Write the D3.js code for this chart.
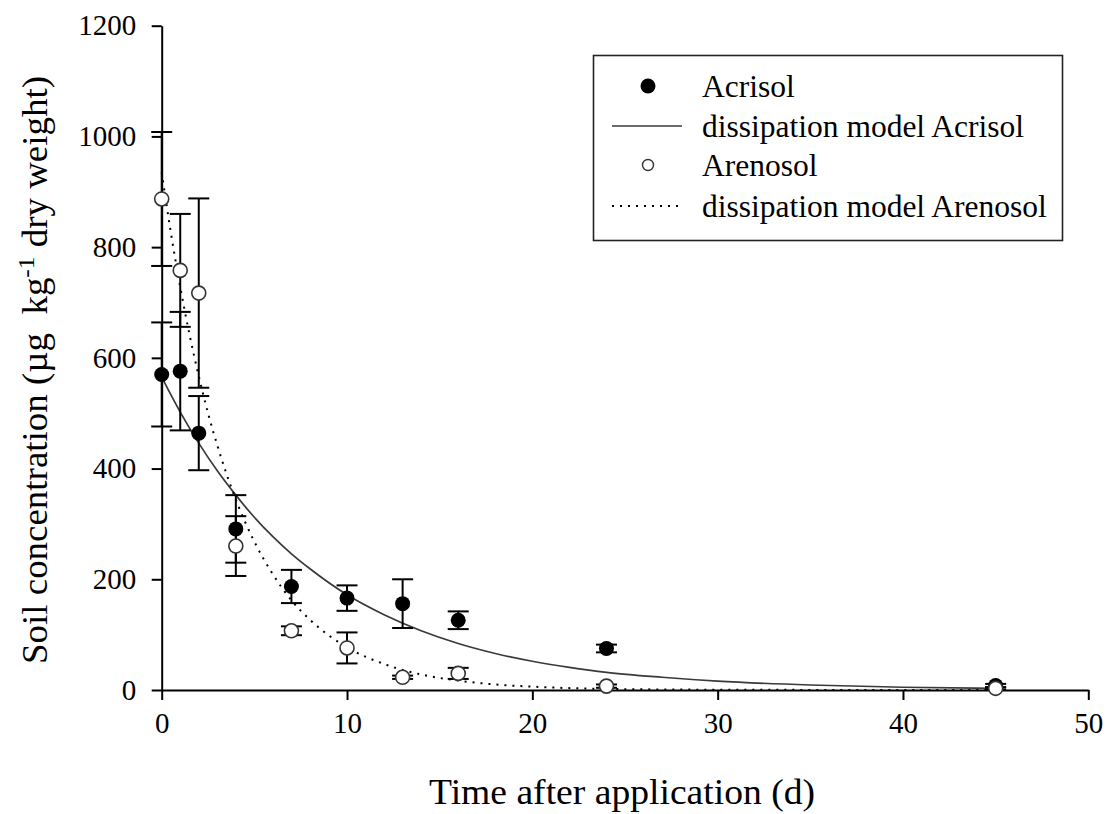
<!DOCTYPE html>
<html>
<head>
<meta charset="utf-8">
<script src="https://cdn.jsdelivr.net/npm/d3@7"></script>
<style>
  body { margin: 0; background: #fff; }
  svg { display: block; }
  text { font-family: "Liberation Serif", "Times New Roman", serif; fill: #000; }
</style>
</head>
<body>
<svg id="chart" width="1110" height="814"></svg>
<script>
// Sampling days and measured soil concentrations (mean and standard deviation)
const sampleDays    = [0, 1, 2, 4, 7, 10, 13, 16, 24, 45];
const acrisolMean   = [570, 576, 464, 291, 187, 166, 156, 126, 75, 8];
const acrisolSD     = [94, 107, 67, 61, 30, 23, 44, 16, 7, 3];
const arenosolMean  = [887, 758, 717, 260, 107, 76, 23, 30, 7, 3];
const arenosolSD    = [121, 102, 171, 54, 8, 28, 3, 10, 3, 2];

// Fitted dissipation model curves, tabulated
const acrisolModelDays = [0, 1, 2, 3, 4, 5, 6, 7, 8, 10, 12, 14, 16, 18, 20, 22, 24, 27, 30, 35, 40, 45];
const acrisolModel     = [565, 502, 446, 396, 352, 312, 277, 246, 219, 172, 136, 107, 84, 66, 52, 41, 32, 23, 16, 9, 5, 3];
const arenosolModelDays = [0, 0.5, 1, 1.5, 2, 2.5, 3, 4, 5, 6, 7, 8, 10, 12, 14, 16, 18, 20, 24, 30, 35, 40, 45];
const arenosolModel     = [935, 825, 728, 642, 567, 500, 442, 344, 268, 209, 162, 127, 77, 47, 28, 17, 10, 6, 2, 0.5, 0.2, 0.1, 0];

// Axis ticks and labels
const xTicks = [0, 10, 20, 30, 40, 50];
const yTicks = [0, 200, 400, 600, 800, 1000, 1200];
const xTitle = "Time after application (d)";
const legendLabels = ["Acrisol", "dissipation model Acrisol", "Arenosol", "dissipation model Arenosol"];

const serif = '"Liberation Serif", "Times New Roman", serif';
const svg = d3.select("#chart");
const x = d3.scaleLinear().domain([0, 50]).range([161.7, 1088.3]);
const y = d3.scaleLinear().domain([0, 1200]).range([690, 25.7]);

// Axes
const gx = svg.append("g")
  .attr("transform", `translate(0,${y(0)})`)
  .call(d3.axisBottom(x).tickValues(xTicks).tickFormat(d3.format("d"))
    .tickSize(10).tickSizeOuter(0).tickPadding(12));
const gy = svg.append("g")
  .attr("transform", `translate(${x(0)},0)`)
  .call(d3.axisLeft(y).tickValues(yTicks).tickFormat(d3.format("d"))
    .tickSize(10).tickSizeOuter(0).tickPadding(15.5));
[gx, gy].forEach(g => {
  g.attr("font-family", serif).attr("font-size", 29);
  g.select(".domain").attr("stroke", "#000").attr("stroke-width", 2);
  g.selectAll(".tick line").attr("stroke", "#000").attr("stroke-width", 2);
  g.selectAll(".tick text")
    .style("font-family", serif)
    .style("font-size", "29px")
    .attr("fill", "#000");
});

// Axis titles
svg.append("text")
  .attr("x", 622).attr("y", 804)
  .attr("text-anchor", "middle")
  .attr("textLength", 386).attr("lengthAdjust", "spacingAndGlyphs")
  .style("font-size", "35px")
  .text(xTitle);

const yTitle = svg.append("text")
  .attr("transform", "translate(47,370) rotate(-90)")
  .attr("text-anchor", "middle")
  .attr("textLength", 588).attr("lengthAdjust", "spacingAndGlyphs")
  .style("font-size", "35px");
yTitle.append("tspan").text("Soil concentration (\u00b5g\u00a0\u00a0kg");
yTitle.append("tspan").attr("dy", -13).style("font-size", "24px").text("-1");
yTitle.append("tspan").attr("dy", 13).text(" dry weight)");

// Model curves
const line = d3.line().curve(d3.curveMonotoneX);
svg.append("path")
  .attr("d", line(acrisolModelDays.map((d, i) => [x(d), y(acrisolModel[i])])))
  .attr("fill", "none").attr("stroke", "#3a3a3a").attr("stroke-width", 1.7);
svg.append("path")
  .attr("d", line(arenosolModelDays.map((d, i) => [x(d), y(arenosolModel[i])])))
  .attr("fill", "none").attr("stroke", "#000").attr("stroke-width", 2)
  .attr("stroke-dasharray", "2,6");

// Error bars
function errorBars(means, sds) {
  const g = svg.append("g").attr("stroke", "#000").attr("stroke-width", 2);
  sampleDays.forEach((d, i) => {
    const cx = x(d), lo = y(means[i] - sds[i]), hi = y(means[i] + sds[i]);
    g.append("line").attr("x1", cx).attr("x2", cx).attr("y1", lo).attr("y2", hi);
    g.append("line").attr("x1", cx - 10.5).attr("x2", cx + 10.5).attr("y1", lo).attr("y2", lo);
    g.append("line").attr("x1", cx - 10.5).attr("x2", cx + 10.5).attr("y1", hi).attr("y2", hi);
  });
}
errorBars(acrisolMean, acrisolSD);
errorBars(arenosolMean, arenosolSD);

// Measured points
svg.append("g").selectAll("circle")
  .data(sampleDays)
  .join("circle")
  .attr("cx", d => x(d))
  .attr("cy", (d, i) => y(acrisolMean[i]))
  .attr("r", 7.5)
  .attr("fill", "#000");
svg.append("g").selectAll("circle")
  .data(sampleDays)
  .join("circle")
  .attr("cx", d => x(d))
  .attr("cy", (d, i) => y(arenosolMean[i]))
  .attr("r", 7)
  .attr("fill", "#fff")
  .attr("stroke", "#333")
  .attr("stroke-width", 1.6);

// Legend
const legend = svg.append("g");
legend.append("rect")
  .attr("x", 593.5).attr("y", 55.5).attr("width", 469).attr("height", 185)
  .attr("fill", "#fff").attr("stroke", "#222").attr("stroke-width", 1.6);
const rowY = [86, 126, 165, 206];
legend.append("circle").attr("cx", 648).attr("cy", rowY[0]).attr("r", 7.5).attr("fill", "#000");
legend.append("line").attr("x1", 612).attr("x2", 682).attr("y1", rowY[1]).attr("y2", rowY[1])
  .attr("stroke", "#3a3a3a").attr("stroke-width", 1.7);
legend.append("circle").attr("cx", 648).attr("cy", rowY[2]).attr("r", 5.5)
  .attr("fill", "#fff").attr("stroke", "#333").attr("stroke-width", 1.4);
legend.append("line").attr("x1", 612).attr("x2", 682).attr("y1", rowY[3]).attr("y2", rowY[3])
  .attr("stroke", "#000").attr("stroke-width", 2).attr("stroke-dasharray", "2,6");
legend.selectAll("text.lab")
  .data(legendLabels)
  .join("text")
  .attr("class", "lab")
  .attr("x", 702)
  .attr("y", (d, i) => rowY[i] + 11)
  .style("font-size", "31.5px")
  .text(d => d);
</script>
</body>
</html>
